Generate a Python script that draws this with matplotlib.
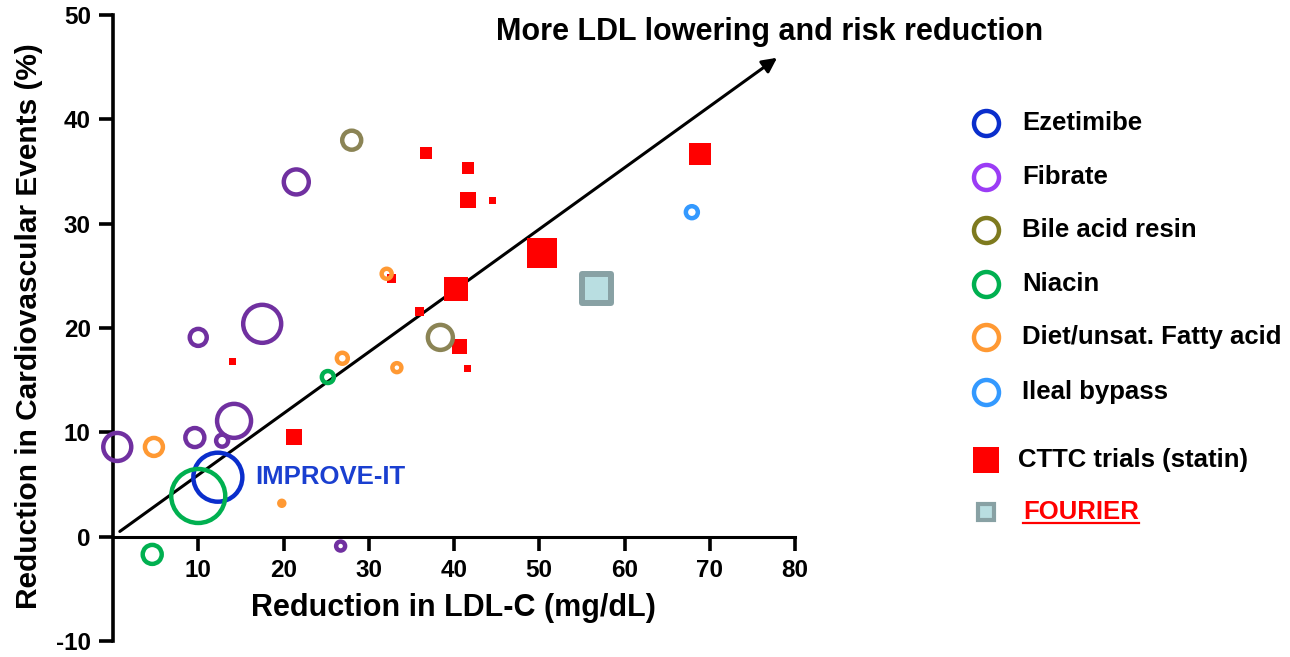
import matplotlib.pyplot as plt
from matplotlib.lines import Line2D

plt.rcParams['font.family'] = ['Liberation Sans', 'DejaVu Sans']
plt.rcParams['axes.unicode_minus'] = False

# trial groups: x = LDL-C reduction (mg/dL), y = event reduction (%), w = bubble diameter
ezetimibe_x = [12.3]
ezetimibe_y = [5.7]
ezetimibe_w = [49]

fibrate_x = [0.5, 10.0, 17.5, 9.6, 12.8, 14.2, 26.7, 21.5]
fibrate_y = [8.6, 19.1, 20.4, 9.5, 9.2, 11.1, -0.9, 34.0]
fibrate_w = [28, 17, 38, 19, 12, 34, 9, 25]

bile_x = [28.0, 38.4]
bile_y = [38.0, 19.1]
bile_w = [19, 25]

niacin_x = [10.0, 25.2, 4.6]
niacin_y = [3.9, 15.3, -1.7]
niacin_w = [54, 12, 19]

diet_x = [4.8, 26.9, 33.3, 19.8, 32.1]
diet_y = [8.6, 17.1, 16.2, 3.2, 25.2]
diet_w = [18, 11, 9, 5, 10]

ileal_x = [67.9]
ileal_y = [31.1]
ileal_w = [12]

cttc_x = [36.7, 41.6, 41.6, 44.5, 68.9, 50.3, 40.2, 32.7, 36.0, 40.6, 41.6, 14.0, 21.2]
cttc_y = [36.8, 35.3, 32.3, 32.2, 36.7, 27.2, 23.7, 24.7, 21.6, 18.2, 16.1, 16.8, 9.6]
cttc_w = [12, 12, 16, 7, 22, 30, 24, 9, 9, 15, 7, 7, 16]

fourier_x = [56.7]
fourier_y = [23.8]
fourier_w = [29]

groups = ['Ezetimibe', 'Fibrate', 'Bile acid resin', 'Niacin',
          'Diet/unsat. Fatty acid', 'Ileal bypass']
plot_colors = ['#0A2ECC', '#7030A0', '#8B8455', '#00B050', '#FF9933', '#3399FF']
legend_colors = ['#0A2ECC', '#9B3CF5', '#7E7A1E', '#00B050', '#FF9933', '#3399FF']

PX = 0.72  # points per pixel at dpi 100

fig = plt.figure(figsize=(12.9, 6.57), dpi=100)
ax = fig.add_axes([113 / 1290, 16 / 657, 682 / 1290, 626 / 657])

# arrow
ax.annotate('', xy=(77.9, 45.9), xytext=(0.8, 0.5),
            arrowprops=dict(arrowstyle='-|>', lw=2.2, color='black',
                            mutation_scale=22, shrinkA=0, shrinkB=0),
            zorder=1)

# statin squares
ax.scatter(cttc_x, cttc_y, s=[(w * PX) ** 2 for w in cttc_w], marker='s',
           color='#FF0000', linewidths=0, zorder=2, clip_on=False)
ax.scatter(fourier_x, fourier_y, s=[(w * PX) ** 2 for w in fourier_w], marker='s',
           facecolor='#B9DEE1', edgecolor='#88A1A4', linewidths=4.3,
           joinstyle='round', zorder=2, clip_on=False)

ring_lw = 3.2
series = [(ezetimibe_x, ezetimibe_y, ezetimibe_w), (fibrate_x, fibrate_y, fibrate_w),
          (bile_x, bile_y, bile_w), (niacin_x, niacin_y, niacin_w),
          (diet_x, diet_y, diet_w), (ileal_x, ileal_y, ileal_w)]
for (xs, ys, ws), c in zip(series, plot_colors):
    ax.scatter(xs, ys, s=[(w * PX) ** 2 for w in ws], marker='o',
               facecolor='none', edgecolor=c, linewidths=ring_lw,
               zorder=3, clip_on=False)

ax.text(16.7, 5.7, 'IMPROVE-IT', color='#1A3FD0', fontsize=18.5,
        fontweight='bold', ha='left', va='center')

# axes styling
ax.set_xlim(0, 80)
ax.set_ylim(-10, 50)
ax.spines['top'].set_visible(False)
ax.spines['right'].set_visible(False)
ax.spines['bottom'].set_position(('data', 0))
ax.spines['left'].set_linewidth(2.6)
ax.spines['bottom'].set_linewidth(2.2)
ax.set_xticks(range(10, 81, 10))
ax.set_yticks(range(-10, 51, 10))
ax.tick_params(axis='both', direction='out', length=10, width=2.6,
               labelsize=17.5, pad=6)
for lab in ax.get_xticklabels() + ax.get_yticklabels():
    lab.set_fontweight('bold')
ax.set_xlabel('Reduction in LDL-C (mg/dL)', fontsize=22, fontweight='bold')
ax.set_ylabel('Reduction in Cardiovascular Events (%)', fontsize=21.5,
              fontweight='bold')
ax.xaxis.set_label_coords(0.4985, 0.077)
ax.yaxis.set_label_coords(-0.102, 0.503)

fig.text(770 / 1290, 1 - 32 / 657, 'More LDL lowering and risk reduction',
         fontsize=22, fontweight='bold', ha='center', va='center')

# legend
leg_x = 986 / 1290
txt_x = 1022 / 1290
rows = [123, 177, 230, 284, 337, 392]
for name, c, r in zip(groups, legend_colors, rows):
    fig.add_artist(Line2D([leg_x], [1 - r / 657], marker='o', markersize=25 * PX,
                          markerfacecolor='none', markeredgecolor=c,
                          markeredgewidth=3.2, transform=fig.transFigure))
    fig.text(txt_x, 1 - r / 657, name, fontsize=18.5, fontweight='bold',
             ha='left', va='center')

fig.add_artist(Line2D([leg_x], [1 - 460 / 657], marker='s', markersize=27 * PX,
                      color='#FF0000', markeredgewidth=0, transform=fig.transFigure))
fig.text(1018 / 1290, 1 - 460 / 657, 'CTTC trials (statin)', fontsize=18.5,
         fontweight='bold', ha='left', va='center')

fig.add_artist(Line2D([leg_x], [1 - 512 / 657], marker='s', markersize=16 * PX,
                      markerfacecolor='#B9DEE1', markeredgecolor='#88A1A4',
                      markeredgewidth=3, transform=fig.transFigure))
fourier_txt = fig.text(1023 / 1290, 1 - 512 / 657, 'FOURIER', fontsize=18.5,
                       fontweight='bold', color='#FF0000', ha='left', va='center')

# underline FOURIER
fig.canvas.draw()
bb = fourier_txt.get_window_extent().transformed(fig.transFigure.inverted())
uy = 1 - 523 / 657
fig.add_artist(Line2D([bb.x0, bb.x1], [uy, uy], color='#FF0000', lw=1.6,
                      transform=fig.transFigure))

fig.savefig('out.png', dpi=100, facecolor='white')
